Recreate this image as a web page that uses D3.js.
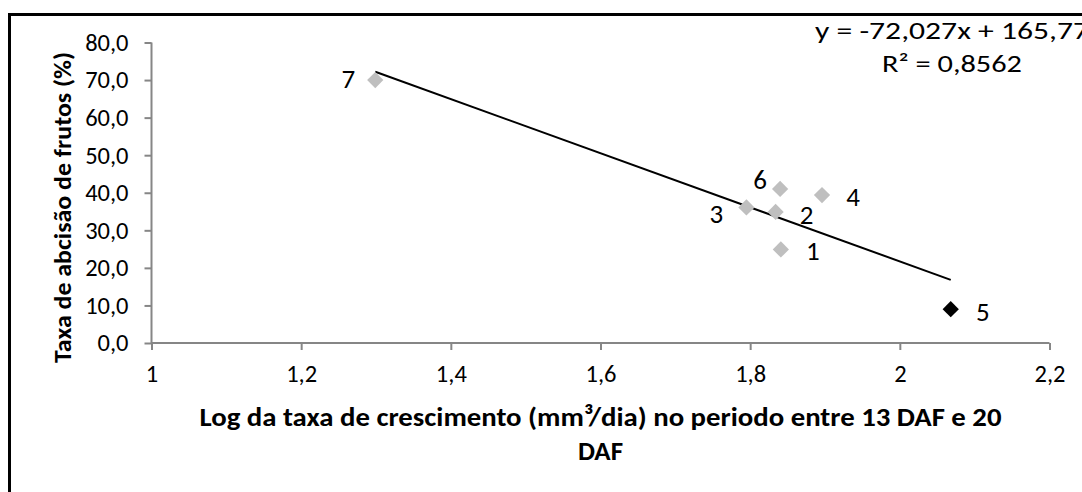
<!DOCTYPE html>
<html><head><meta charset="utf-8">
<script src="https://cdn.jsdelivr.net/npm/d3@7"></script>
<style>
html,body{margin:0;padding:0;background:#fff;}
svg{display:block;font-family:Carlito,Calibri,Lato,"Open Sans",sans-serif;}
</style></head>
<body>
<svg id="c" width="1082" height="492"></svg>
<script>
const labels = ["1","2","3","4","5","6","7"];
const xValues = [1.841, 1.834, 1.795, 1.896, 2.068, 1.840, 1.299];
const yValues = [24.9, 34.9, 36.1, 39.4, 9.0, 41.0, 70.0];
const xTicks = [1, 1.2, 1.4, 1.6, 1.8, 2, 2.2];
const yTicks = [0, 10, 20, 30, 40, 50, 60, 70, 80];
const slope = -72.027, intercept = 165.77;
const equationLines = ["y = -72,027x + 165,77", "R² = 0,8562"];
const yTitle = "Taxa de abcisão de frutos (%)";
const xTitleLines = ["Log da taxa de crescimento (mm³/dia) no periodo entre 13 DAF e 20", "DAF"];

const svg = d3.select("#c");
// outer frame
svg.append("rect").attr("x",9.5).attr("y",14.5).attr("width",1200).attr("height",600)
  .attr("fill","none").attr("stroke","#000").attr("stroke-width",3);

const x = d3.scaleLinear().domain([1,2.2]).range([151.5,1049.5]);
const y = d3.scaleLinear().domain([0,80]).range([343,42.5]);
const fmt = d => d3.format(".1f")(d).replace(".",",");
const fmtX = d => String(d).replace(".",",");
const axisCol = "#868686";

const gx = svg.append("g").attr("transform","translate(0,343)")
  .call(d3.axisBottom(x).tickValues(xTicks).tickFormat(fmtX).tickSize(7).tickPadding(15));
const gy = svg.append("g").attr("transform","translate(151.5,0)")
  .call(d3.axisLeft(y).tickValues(yTicks).tickFormat(fmt).tickSize(7).tickPadding(16));
[gx,gy].forEach(g=>{
  g.selectAll("path,line").attr("stroke",axisCol).attr("stroke-width",2);
  g.select(".domain").attr("d", g===gx ? "M151.5,0H1049.5" : "M0,343V42.5");
  g.selectAll("text").attr("fill","#000").attr("font-size",24.5).attr("font-family","Carlito,Calibri,Lato,sans-serif");
});

// trendline
const xe = d3.extent(xValues);
svg.append("line")
  .attr("x1",x(xe[0])).attr("y1",y(slope*xe[0]+intercept))
  .attr("x2",x(xe[1])).attr("y2",y(slope*xe[1]+intercept))
  .attr("stroke","#000").attr("stroke-width",2);

const data = labels.map((l,i)=>({l, x:xValues[i], y:yValues[i]}));
const sym = d3.symbol().type(d3.symbolSquare).size(132);
svg.append("g").selectAll("path").data(data).join("path")
  .attr("d", sym)
  .attr("transform", d=>`translate(${x(d.x)},${y(d.y)}) rotate(45)`)
  .attr("fill", d=> d.l==="5" ? "#000" : "#BFBFBF");

// point labels (offsets)
const off = {"1":[32,1.5],"2":[31,2.5],"3":[-30,6.5],"4":[31,1.5],"5":[32,2.5],"6":[-20,-9],"7":[-27,-1.5]};
svg.append("g").selectAll("text").data(data).join("text")
  .attr("x", d=>x(d.x)+off[d.l][0]).attr("y", d=>y(d.y)+off[d.l][1])
  .attr("dy","0.35em").attr("text-anchor","middle").attr("font-size",27).text(d=>d.l);

// equation
const eqW = [274, 140];
svg.append("g").selectAll("text").data(equationLines).join("text")
  .attr("x",(d,i)=>952-eqW[i]/2).attr("y",(d,i)=>38.5+i*33)
  .attr("font-size",25).attr("textLength",(d,i)=>eqW[i]).attr("lengthAdjust","spacingAndGlyphs")
  .text(d=>d);

// titles
svg.append("text").attr("transform","translate(71,207.5) rotate(-90)")
  .attr("x",-155.5).attr("textLength",311).attr("lengthAdjust","spacingAndGlyphs")
  .attr("font-weight","bold").attr("font-size",24).text(yTitle);
const xtW = [802, 45];
svg.append("g").selectAll("text").data(xTitleLines).join("text")
  .attr("x",(d,i)=>600.5-xtW[i]/2).attr("y",(d,i)=>425.5+i*34.5)
  .attr("textLength",(d,i)=>xtW[i]).attr("lengthAdjust","spacingAndGlyphs")
  .attr("font-weight","bold").attr("font-size",27).text(d=>d);
</script>
</body></html>
